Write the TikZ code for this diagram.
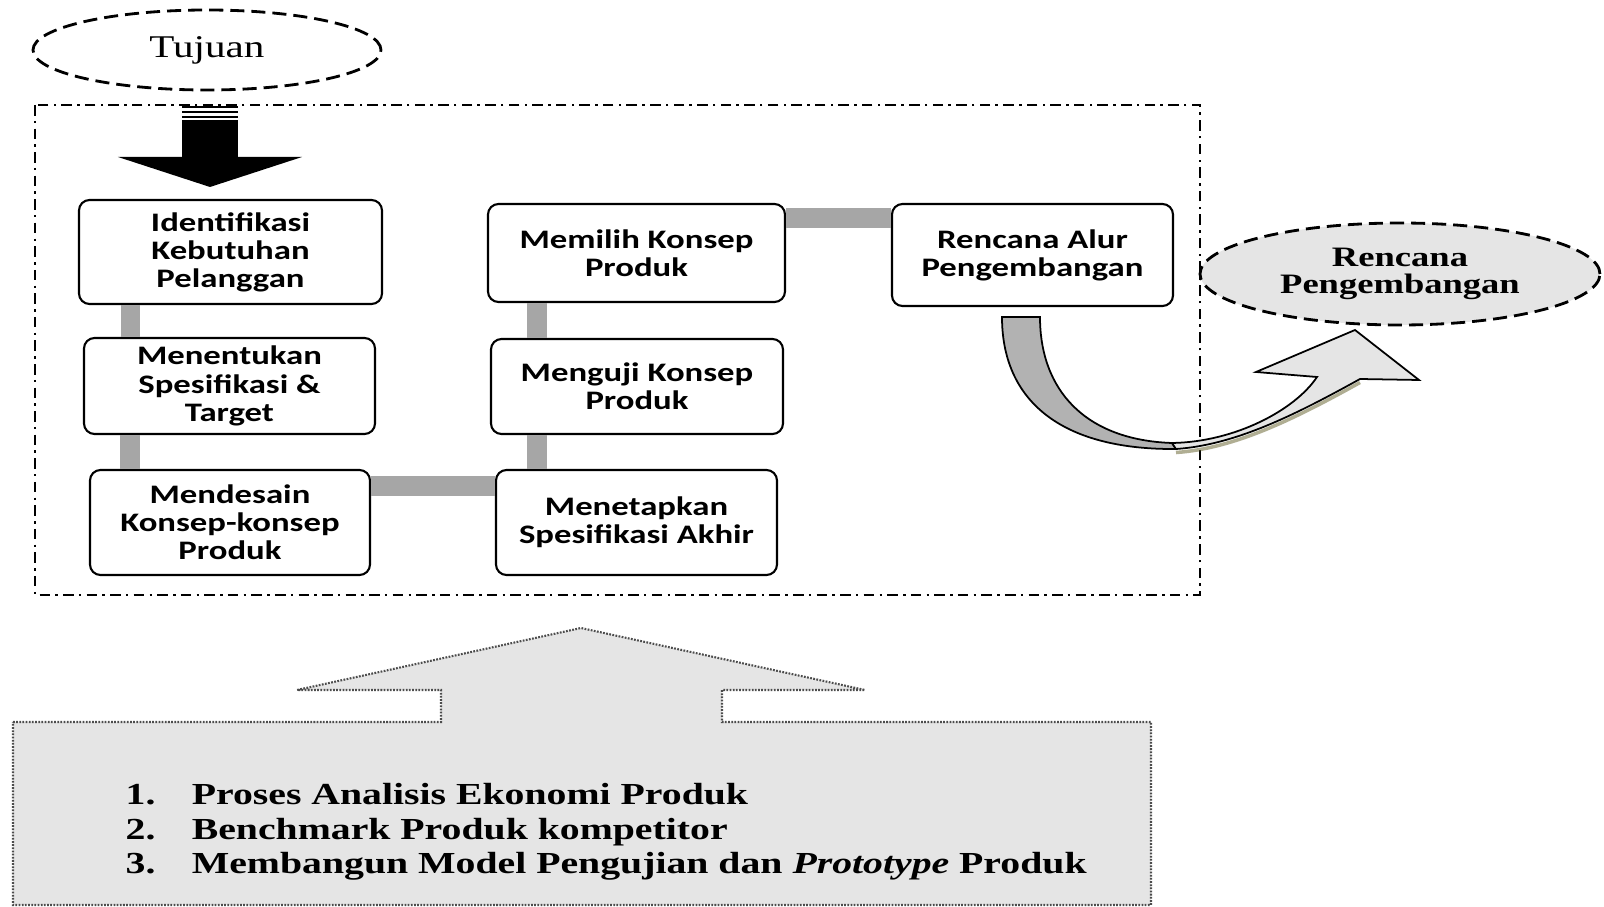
\documentclass[tikz,border=0pt]{standalone}
\usepackage{fontspec}
\newfontfamily\boxfont{Carlito}[FakeStretch=1.3]
\newfontfamily\wideserif{Liberation Serif}[FakeStretch=1.3]
\usetikzlibrary{shapes,arrows,positioning}
\usetikzlibrary{arrows.meta}

\tikzset{
  stage/.style={draw, rounded corners=3pt, fill=white, line width=0.6pt, align=center, inner sep=1pt,
    font=\boxfont\bfseries\fontsize{7.6}{8}\selectfont},
  link/.style={draw=black!35, line width=0.2cm},
  goal/.style={ellipse, draw, dash pattern=on 4pt off 2pt, line width=0.8pt, inner sep=0pt},
}

\begin{document}
\begin{tikzpicture}
\useasboundingbox (0,0) rectangle (16.04,-9.07);

% Dash-dot frame round the stages
\draw[line width=0.5pt, dash pattern=on 3pt off 1.5pt on 0.7pt off 1.5pt] (0.35,-1.05) rectangle (12.00,-5.95);

% Goal ellipse
\node[goal, minimum width=3.48cm, minimum height=0.8cm, font=\wideserif\fontsize{9}{10}\selectfont] (tujuan) at (2.07,-0.50) {Tujuan};

% Black block arrow into the frame
\foreach \s in {1.07,1.12,1.17}
  \draw[line width=0.6pt] (1.82,-\s) -- (2.38,-\s);
\fill (1.82,-1.20) rectangle (2.38,-1.58);
\fill (1.18,-1.57) -- (3.02,-1.57) -- (2.10,-1.87) -- cycle;

% Stages
\node[stage, minimum width=3.03cm, minimum height=1.04cm] (b1) at (2.305,-2.52) {Identifikasi\\Kebutuhan\\Pelanggan};
\node[stage, minimum width=2.91cm, minimum height=0.96cm] (b2) at (2.295,-3.86) {Menentukan\\Spesifikasi \&\\Target};
\node[stage, minimum width=2.80cm, minimum height=1.05cm] (b3) at (2.30,-5.225) {Mendesain\\Konsep-konsep\\Produk};
\node[stage, minimum width=2.97cm, minimum height=0.98cm] (b4) at (6.365,-2.53) {Memilih Konsep\\Produk};
\node[stage, minimum width=2.92cm, minimum height=0.95cm] (b5) at (6.37,-3.865) {Menguji Konsep\\Produk};
\node[stage, minimum width=2.81cm, minimum height=1.05cm] (b6) at (6.365,-5.225) {Menetapkan\\Spesifikasi Akhir};
\node[stage, minimum width=2.81cm, minimum height=1.02cm] (b7) at (10.325,-2.55) {Rencana Alur\\Pengembangan};

% Gray links between stages
\draw[link] ([xshift=-1cm]b1.south) -- ([xshift=-1cm]b1.south |- b2.north);
\draw[link] ([xshift=-1cm]b2.south) -- ([xshift=-1cm]b2.south |- b3.north);
\draw[link] ([yshift=3.65mm]b3.east) -- ([yshift=3.65mm]b3.east -| b6.west);
\draw[link] ([xshift=-1cm]b6.north) -- ([xshift=-1cm]b6.north |- b5.south);
\draw[link] ([xshift=-1cm]b5.north) -- ([xshift=-1cm]b5.north |- b4.south);
\draw[link] ([yshift=3.5mm]b4.east) -- ([yshift=3.5mm]b4.east -| b7.west);

% Result ellipse
\node[goal, fill=black!10, minimum width=4.0cm, minimum height=1.02cm,
  font=\wideserif\bfseries\fontsize{8}{7.6}\selectfont, align=center] (rencana) at (14.0,-2.74) {Rencana\\Pengembangan};

% Curved arrow (back part dark, front part light)
\draw[olive!60!black, opacity=0.5, line width=1pt, yshift=-1pt] (11.76,-4.49) .. controls (12.35,-4.45) and (12.95,-4.15) .. (13.60,-3.79);
\draw[fill=black!30, line width=0.5pt] (10.02,-3.17) -- (10.40,-3.17)
  .. controls (10.40,-3.90) and (10.85,-4.40) .. (11.72,-4.43) -- (11.76,-4.49)
  .. controls (10.60,-4.50) and (10.02,-4.00) .. (10.02,-3.17) -- cycle;
\draw[fill=black!10, line width=0.5pt] (11.72,-4.43)
  .. controls (12.35,-4.42) and (12.95,-4.10) .. (13.17,-3.77)
  -- (12.56,-3.72) -- (13.55,-3.30) -- (14.19,-3.80) -- (13.60,-3.79)
  .. controls (12.95,-4.15) and (12.35,-4.45) .. (11.76,-4.49) -- cycle;

% Big up arrow with the supporting activities
\draw[fill=black!10, draw=black!70, line width=0.6pt, dash pattern=on 0.5pt off 0.4pt]
  (0.13,-7.22) -- (4.41,-7.22) -- (4.41,-6.90) -- (2.97,-6.90) -- (5.81,-6.28)
  -- (8.65,-6.90) -- (7.22,-6.90) -- (7.22,-7.22) -- (11.51,-7.22)
  -- (11.51,-9.05) -- (0.13,-9.05) -- cycle;
\node[anchor=west, align=left, inner sep=0pt, font=\wideserif\bfseries\fontsize{8.7}{9.8}\selectfont] (pendukung) at (1.25,-8.32)
  {\makebox[18.8pt][l]{1.}Proses Analisis Ekonomi Produk\\
   \makebox[18.8pt][l]{2.}Benchmark Produk kompetitor\\
   \makebox[18.8pt][l]{3.}Membangun Model Pengujian dan \textit{Prototype} Produk};

\end{tikzpicture}
\end{document}
